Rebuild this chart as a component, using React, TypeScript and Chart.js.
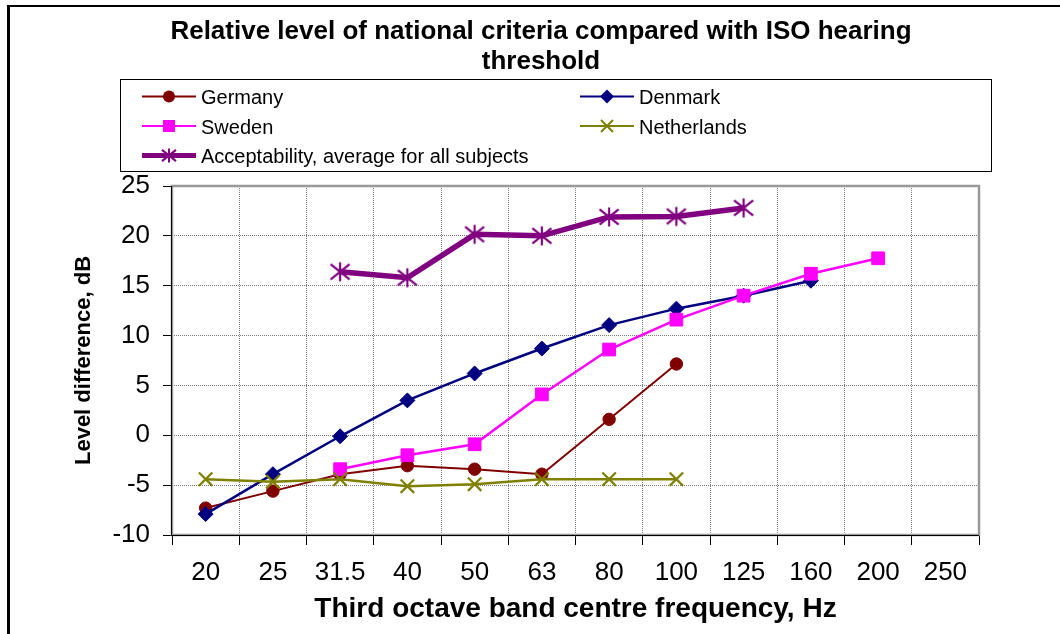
import React, { useEffect, useRef } from 'react';
import { Chart, registerables } from 'chart.js';

Chart.register(...registerables);

const FONT = '"Liberation Sans", Arial, Helvetica, sans-serif';

const TITLE_LINES = ['Relative level of national criteria compared with ISO hearing', 'threshold'];
const Y_TITLE = 'Level difference, dB';
const X_TITLE = 'Third octave band centre frequency, Hz';

const CATEGORIES = ['20', '25', '31.5', '40', '50', '63', '80', '100', '125', '160', '200', '250'];

const GERMANY = [-7.3, -5.6, -3.9, -3.05, -3.4, -3.9, 1.6, 7.15, null, null, null, null];
const DENMARK = [-7.9, -3.9, -0.1, 3.5, 6.2, 8.7, 11.05, 12.7, 14.0, 15.5, null, null];
const SWEDEN = [null, null, -3.4, -2.0, -0.9, 4.1, 8.6, 11.6, 14.0, 16.2, 17.75, null];
const NETHERLANDS = [-4.4, -4.65, -4.4, -5.1, -4.9, -4.4, -4.4, -4.4, null, null, null, null];
const ACCEPTABILITY = [null, null, 16.4, 15.8, 20.15, 20.0, 21.9, 21.95, 22.8, null, null, null];

const SERIES_NAMES = ['Germany', 'Denmark', 'Sweden', 'Netherlands', 'Acceptability, average for all subjects'];

const Y_MIN = -10;
const Y_MAX = 25;
const Y_STEP = 5;

type Marker = 'circle' | 'diamond' | 'square' | 'x' | 'star';

const STYLES: { color: string; width: number; marker: Marker }[] = [
  { color: '#800000', width: 2, marker: 'circle' },
  { color: '#000080', width: 2.5, marker: 'diamond' },
  { color: '#FF00FF', width: 2.5, marker: 'square' },
  { color: '#808000', width: 2.5, marker: 'x' },
  { color: '#800080', width: 5.5, marker: 'star' },
];

// legend grid: [column, row]
const LEGEND_SLOTS: [number, number][] = [[0, 0], [1, 0], [0, 1], [1, 1], [0, 2]];

function drawStar(ctx: CanvasRenderingContext2D, x: number, y: number, h: number, color: string, lw: number) {
  ctx.save();
  ctx.strokeStyle = color;
  ctx.lineWidth = lw;
  ctx.beginPath();
  ctx.moveTo(x, y - h);
  ctx.lineTo(x, y + h);
  ctx.moveTo(x - h, y - h * 0.8);
  ctx.lineTo(x + h, y + h * 0.8);
  ctx.moveTo(x + h, y - h * 0.8);
  ctx.lineTo(x - h, y + h * 0.8);
  ctx.stroke();
  ctx.restore();
}

function makeStarCanvas(color: string) {
  const c = document.createElement('canvas');
  c.width = 22;
  c.height = 22;
  const ctx = c.getContext('2d')!;
  drawStar(ctx, 11, 11, 9.5, color, 2.2);
  return c;
}

function drawLegendMarker(ctx: CanvasRenderingContext2D, m: Marker, x: number, y: number, color: string) {
  ctx.save();
  ctx.fillStyle = color;
  ctx.strokeStyle = color;
  if (m === 'circle') {
    ctx.beginPath();
    ctx.arc(x, y, 6, 0, Math.PI * 2);
    ctx.fill();
  } else if (m === 'diamond') {
    ctx.beginPath();
    ctx.moveTo(x, y - 7);
    ctx.lineTo(x + 7, y);
    ctx.lineTo(x, y + 7);
    ctx.lineTo(x - 7, y);
    ctx.closePath();
    ctx.fill();
  } else if (m === 'square') {
    ctx.fillRect(x - 6, y - 6, 12, 12);
  } else if (m === 'x') {
    ctx.lineWidth = 2;
    ctx.beginPath();
    ctx.moveTo(x - 6, y - 6);
    ctx.lineTo(x + 6, y + 6);
    ctx.moveTo(x + 6, y - 6);
    ctx.lineTo(x - 6, y + 6);
    ctx.stroke();
  } else {
    drawStar(ctx, x, y, 7, color, 2);
  }
  ctx.restore();
}

const chromePlugin = {
  id: 'chrome',
  beforeDatasetsDraw(chart: any) {
    const { ctx, chartArea: a } = chart;
    ctx.save();
    ctx.strokeStyle = '#999999';
    ctx.lineWidth = 2.5;
    ctx.strokeRect(a.left, a.top, a.right - a.left, a.bottom - a.top);
    ctx.strokeStyle = '#000';
    ctx.lineWidth = 1;
    ctx.beginPath();
    ctx.moveTo(a.left - 0.5, a.top);
    ctx.lineTo(a.left - 0.5, a.bottom + 0.5);
    ctx.lineTo(a.right, a.bottom + 0.5);
    ctx.stroke();
    ctx.restore();
  },
  afterDraw(chart: any) {
    const { ctx } = chart;
    ctx.save();
    // title
    ctx.fillStyle = '#000';
    ctx.font = `bold 26px ${FONT}`;
    ctx.textAlign = 'center';
    ctx.textBaseline = 'alphabetic';
    TITLE_LINES.forEach((t, i) => ctx.fillText(t, 541, 38.5 + i * 30.5));

    // legend box
    ctx.strokeStyle = '#000';
    ctx.lineWidth = 1;
    ctx.strokeRect(120.5, 79.5, 871, 92);
    ctx.font = `20px ${FONT}`;
    ctx.textAlign = 'left';
    const colX = [142, 580];
    const rowY = [96.5, 126, 155.5];
    chart.data.datasets.forEach((ds: any, i: number) => {
      const [c, r] = LEGEND_SLOTS[i];
      const st = STYLES[i];
      const x0 = colX[c];
      const y = rowY[r];
      ctx.strokeStyle = st.color;
      ctx.lineWidth = st.marker === 'star' ? 5 : 2;
      ctx.beginPath();
      ctx.moveTo(x0, y);
      ctx.lineTo(x0 + 54, y);
      ctx.stroke();
      drawLegendMarker(ctx, st.marker, x0 + 27, y, st.color);
      ctx.fillStyle = '#000';
      ctx.fillText(ds.label, x0 + 59, y + 7.5);
    });
    ctx.restore();
  },
};

export default function App() {
  const ref = useRef<HTMLCanvasElement | null>(null);

  useEffect(() => {
    if (!ref.current) return;
    const star = makeStarCanvas(STYLES[4].color);
    const values = [GERMANY, DENMARK, SWEDEN, NETHERLANDS, ACCEPTABILITY];
    const pointStyles: any[] = ['circle', 'rectRot', 'rect', 'crossRot', star];
    const radii = [6.2, 7.5, 9, 9.5, 10];
    const datasets = values.map((data, i) => ({
      label: SERIES_NAMES[i],
      data,
      borderColor: STYLES[i].color,
      backgroundColor: STYLES[i].color,
      borderWidth: STYLES[i].width,
      pointStyle: pointStyles[i],
      pointRadius: radii[i],
      pointBackgroundColor: STYLES[i].color,
      pointBorderColor: STYLES[i].color,
      pointBorderWidth: i === 3 ? 2.2 : 1,
      tension: 0,
      spanGaps: false,
      order: 5 - i,
      clip: false as any,
    }));

    const chart = new Chart(ref.current, {
      type: 'line',
      data: { labels: CATEGORIES, datasets },
      plugins: [chromePlugin],
      options: {
        animation: false,
        responsive: false,
        events: [],
        layout: { padding: { left: 68, top: 186, right: 81, bottom: 4 } },
        plugins: {
          legend: { display: false },
          title: { display: false },
          tooltip: { enabled: false },
        },
        scales: {
          x: {
            type: 'category',
            offset: true,
            grid: {
              offset: true,
              color: '#7a7a7a',
              lineWidth: 1,
              tickLength: 10,
              tickColor: '#000',
              tickWidth: 1,
              tickBorderDash: [],
            },
            border: { display: false, dash: [1, 1] },
            ticks: {
              autoSkip: false,
              maxRotation: 0,
              padding: 12,
              color: '#000',
              font: { family: FONT, size: 26 },
            },
            title: {
              display: true,
              text: X_TITLE,
              color: '#000',
              font: { family: FONT, size: 28, weight: 'bold' },
              padding: { top: 4, bottom: 4 },
            },
            afterFit(s: any) {
              s.height = 95;
            },
          },
          y: {
            min: Y_MIN,
            max: Y_MAX,
            grid: {
              color: '#7a7a7a',
              lineWidth: 1,
              tickLength: 9,
              tickColor: '#000',
              tickWidth: 1,
              tickBorderDash: [],
            },
            border: { display: false, dash: [1, 1] },
            ticks: {
              stepSize: Y_STEP,
              padding: 13,
              color: '#000',
              font: { family: FONT, size: 26 },
            },
            title: {
              display: true,
              text: Y_TITLE,
              color: '#000',
              font: { family: FONT, size: 22, weight: 'bold' },
              padding: { top: 3, bottom: 4 },
            },
            afterFit(s: any) {
              s.width = 104;
            },
          },
        },
      } as any,
    });
    return () => chart.destroy();
  }, []);

  return (
    <div
      style={{
        position: 'fixed',
        left: 0,
        top: 0,
        width: 1060,
        height: 634,
        overflow: 'hidden',
        background: '#fff',
      }}
    >
      <div
        style={{
          position: 'absolute',
          left: 7,
          top: 5,
          width: 1200,
          height: 800,
          borderLeft: '3px solid #000',
          borderTop: '2px solid #000',
        }}
      />
      <canvas ref={ref} width={1060} height={634} style={{ position: 'absolute', left: 0, top: 0 }} />
    </div>
  );
}
